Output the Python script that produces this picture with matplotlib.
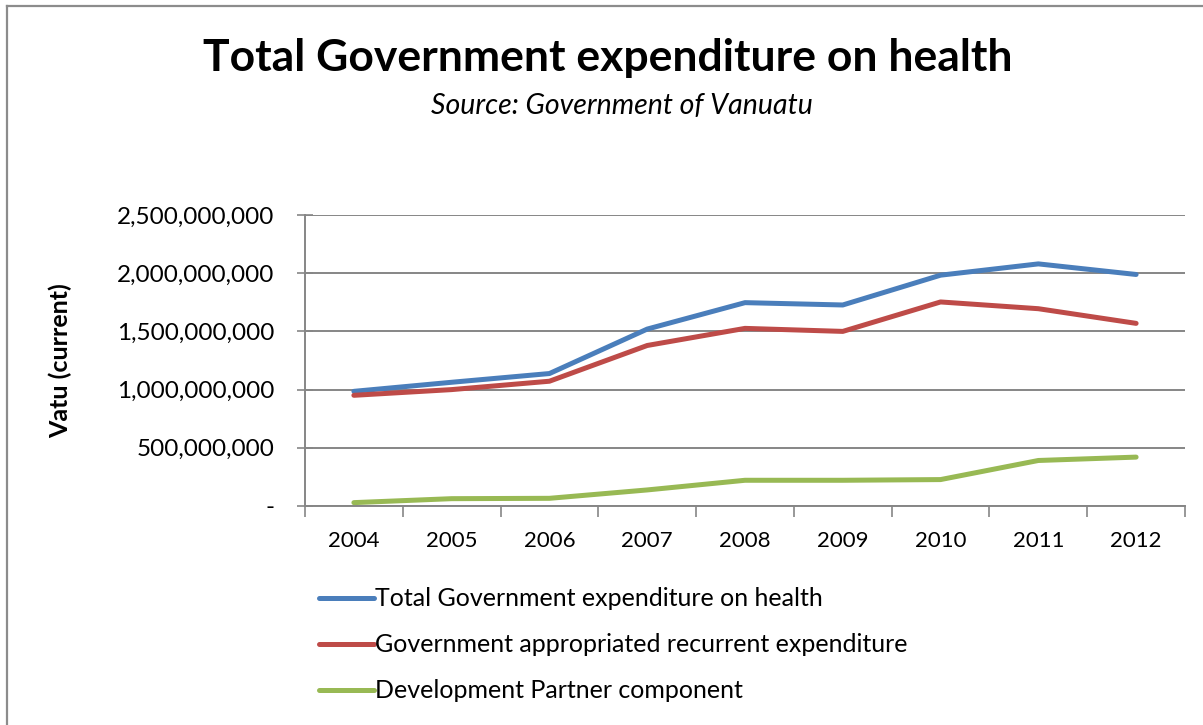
import matplotlib.pyplot as plt
from matplotlib.ticker import FuncFormatter, FixedLocator

plt.rcParams['font.family'] = ['Lato', 'DejaVu Sans']

years = ['2004', '2005', '2006', '2007', '2008', '2009', '2010', '2011', '2012']
total_exp = [985e6, 1063e6, 1138e6, 1520e6, 1747e6, 1727e6, 1983e6, 2080e6, 1989e6]
recurrent_exp = [951e6, 1000e6, 1072e6, 1379e6, 1526e6, 1500e6, 1753e6, 1695e6, 1569e6]
partner_exp = [29e6, 63e6, 66e6, 138e6, 221e6, 221e6, 227e6, 391e6, 420e6]

series_names = ['Total Government expenditure on health',
                'Government appropriated recurrent expenditure',
                'Development Partner component']
colors = ['#4A7EBB', '#BE4B48', '#98B954']

fig = plt.figure(figsize=(12.03, 7.25), dpi=100)
ax = fig.add_axes([305 / 1203, 1 - 506 / 725, 880 / 1203, 291 / 725])

x = list(range(len(years)))
for vals, name, c in zip([total_exp, recurrent_exp, partner_exp], series_names, colors):
    ax.plot(x, vals, color=c, lw=3.6, label=name, solid_capstyle='round', zorder=3)

# axes styling
grid_col = '#868686'
ax.set_ylim(0, 2.5e9)
ax.set_yticks([0, 5e8, 1e9, 1.5e9, 2e9, 2.5e9])
ax.yaxis.set_major_formatter(FuncFormatter(lambda v, p: '-' if v == 0 else f'{v:,.0f}'))
ax.grid(axis='y', color=grid_col, lw=1.4, zorder=1)
ax.set_xlim(-0.5, len(years) - 0.5)
ax.xaxis.set_major_locator(FixedLocator([i - 0.5 for i in range(len(years) + 1)]))
ax.xaxis.set_minor_locator(FixedLocator(x))
ax.set_xticklabels([], minor=False)
ax.set_xticklabels(years, minor=True)
ax.tick_params(axis='x', which='major', direction='out', length=8, color=grid_col, width=1.2)
ax.tick_params(axis='x', which='minor', length=0, pad=18, labelsize=16)
ax.tick_params(axis='y', direction='inout', length=12, color=grid_col, width=1.2,
               pad=16, labelsize=17.5)
for s in ['top', 'right']:
    ax.spines[s].set_visible(False)
for s in ['left', 'bottom']:
    ax.spines[s].set_color(grid_col)
    ax.spines[s].set_linewidth(1.4)

ax.set_ylabel('Vatu (current)', fontsize=18, fontweight='bold')
ax.yaxis.set_label_coords((72 - 305) / 880, (506 - 361) / 291)

fig.text(608 / 1203, 1 - 58 / 725, 'Total Government expenditure on health',
         ha='center', va='center', fontsize=32, fontweight='bold')
fig.text(622 / 1203, 1 - 106 / 725, 'Source: Government of Vanuatu',
         ha='center', va='center', fontsize=20.5, style='italic')

# outer frame of the chart
fig.add_artist(plt.Line2D([7 / 1203, 7 / 1203], [0, 1 - 5.5 / 725], color='#8c8c8c', lw=1.6))
fig.add_artist(plt.Line2D([7 / 1203, 1], [1 - 5.5 / 725, 1 - 5.5 / 725], color='#8c8c8c', lw=1.6))

fig.legend(loc='upper left', bbox_to_anchor=(296 / 1203, 1 - 565 / 725), frameon=False,
           fontsize=18, handlelength=2.2, handletextpad=0.05, labelspacing=0.92)

fig.savefig('out.png', dpi=100)
